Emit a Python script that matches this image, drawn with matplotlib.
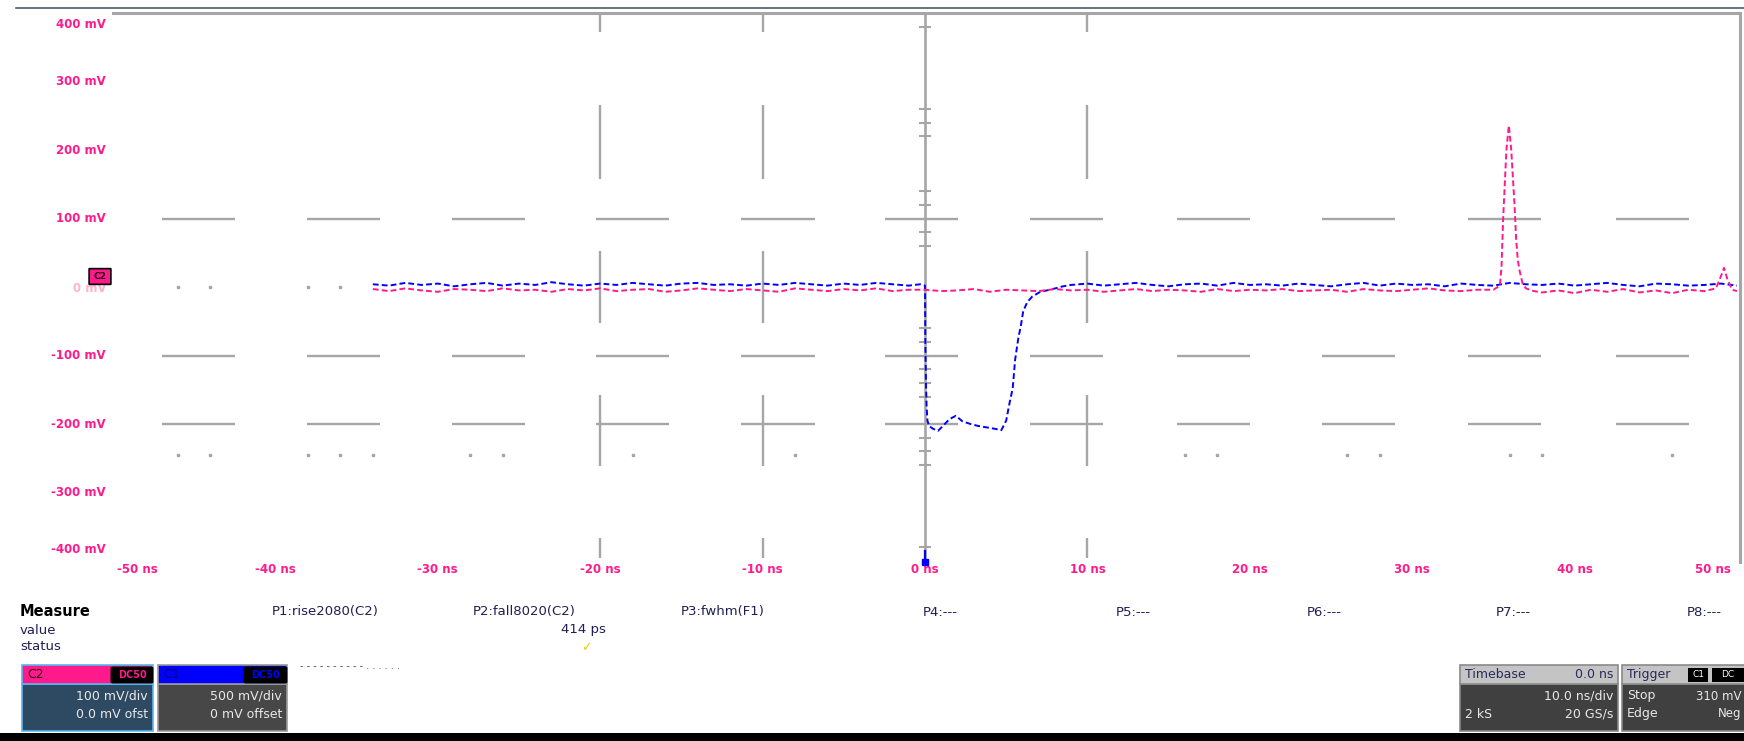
import matplotlib

matplotlib.use("Agg")
import matplotlib.pyplot as plt
import numpy as np
from matplotlib.patches import Rectangle, FancyBboxPatch

W, H = 1744, 741

# graticule labels
x_ticks_ns = [-50, -40, -30, -20, -10, 0, 10, 20, 30, 40, 50]
x_tick_labels = ["-50 ns", "-40 ns", "-30 ns", "-20 ns", "-10 ns", "0 ns",
                 "10 ns", "20 ns", "30 ns", "40 ns", "50 ns"]
y_ticks_mv = [400, 300, 200, 100, -100, -200, -300, -400]
y_tick_labels = ["400 mV", "300 mV", "200 mV", "100 mV",
                 "-100 mV", "-200 mV", "-300 mV", "-400 mV"]

# C2 (pink) trace, screen mV
c2_pre_mv = [-3, -6, -2, -5, -7, -3, -4, -6, -2, -5, -4, -7, -3, -5, -2, -6, -4,
             -3, -7, -5, -2, -4, -6, -3, -5, -7, -2, -4, -6, -3, -5, -2, -6, -4]
c2_post_mv = [-4, -6, -5, -3, -7, -4, -5, -6, -3, -5, -4, -7, -5, -3, -6, -4, -5, -7,
              -3, -6, -4, -5, -3, -6, -5, -4, -7, -3, -5, -6, -4, -2, -5, -6, -4]
c2_spike_ns = [35.0, 35.4, 35.5, 35.6, 35.7, 35.8, 35.95, 36.1, 36.2, 36.3, 36.4, 36.5,
               36.6, 36.8, 37.0, 37.5, 38, 39, 40, 41, 42, 43, 44, 45, 46, 47, 48,
               48.7, 49.0, 49.2, 49.4, 49.7, 50]
c2_spike_mv = [-4, 2, 30, 100, 150, 200, 236, 200, 160, 120, 70, 40, 25, 5, -2, -6,
               -8, -5, -9, -4, -7, -3, -8, -5, -9, -4, -6, -2, 15, 28, 12, -4, -6]

# C1 (blue) trace, screen mV
c1_pre_mv = [4, 2, 6, 3, 5, 1, 4, 6, 2, 5, 3, 7, 4, 2, 5, 3, 6, 4, 2, 5,
             6, 3, 4, 2, 5, 3, 6, 4, 2, 5, 3, 6, 4, 2]
c1_pulse_ns = [-0.3, 0.0, 0.02, 0.06, 0.1, 0.15, 0.25, 0.5, 0.8, 1.1, 1.5, 1.9, 2.3,
               2.8, 3.3, 3.8, 4.3, 4.7, 5.0, 5.2, 5.4, 5.55, 5.75, 5.9, 6.05, 6.3,
               6.6, 7.1, 7.7, 8.5]
c1_pulse_mv = [4, 2, -80, -140, -175, -195, -203, -207, -210, -203, -193, -188, -196,
               -200, -203, -205, -207, -209, -195, -170, -148, -106, -74, -57, -35,
               -22, -14, -7, -4, 1]
c1_post_mv = [3, 5, 2, 4, 6, 3, 1, 4, 5, 2, 6, 3, 4, 2, 5, 3, 1, 4, 6, 2, 5,
              3, 4, 1, 5, 3, 2, 6, 4, 3, 5, 2, 4, 6, 3, 1, 5, 4, 2, 3, 5, 2]

# graticule pieces
h_dash_centres_ns = [-44.75, -35.8, -26.9, -18.0, -9.05, -0.2, 8.7, 17.75, 26.7, 35.7, 44.8]
h_dash_levels_mv = [100, -100, -200]
v_dash_cols_ns = [-20, -10, 10]
v_dash_spans_mv = [(372, 400), (158, 266), (-52, 52), (-262, -157), (-395, -367)]
centre_ticks_mv = [380, 260, 240, 220, 140, 120, 80, 60, -60, -80, -120, -140,
                   -160, -220, -240, -260, -380]
dots_zero_ns = [-46, -44, -38, -36]
dots_low_ns = [-46, -44, -38, -36, -34, -28, -26, -18, -8, 16, 18, 26, 28, 36, 38, 46]

PINK = "#ff1a8c"
BLUE = "#0000ff"
GRID = "#a6a6a6"


def fx(px):
    return px / W


def fy(py):
    return 1 - py / H


fig = plt.figure(figsize=(W / 100, H / 100), dpi=100, facecolor="white")
ax = fig.add_axes([fx(113), fy(561), (1737 - 113) / W, (561 - 13) / H])
ax.set_xlim(-50, 50)
ax.set_ylim(-400, 400)
ax.axis("off")

# graticule
for lvl in h_dash_levels_mv:
    for c in h_dash_centres_ns:
        ax.plot([c - 2.25, c + 2.25], [lvl, lvl], color=GRID, lw=1.7, solid_capstyle="butt")
for col in v_dash_cols_ns:
    for lo, hi in v_dash_spans_mv:
        ax.plot([col, col], [lo, hi], color=GRID, lw=1.7, solid_capstyle="butt")
ax.plot([0, 0], [-400, 400], color=GRID, lw=1.9, solid_capstyle="butt")
for mv in centre_ticks_mv:
    ax.plot([-0.3, 0.3], [mv, mv], color=GRID, lw=1.5)
ax.plot(dots_zero_ns, [0] * len(dots_zero_ns), ls="none", marker="s", ms=1.8, color=GRID)
ax.plot(dots_low_ns, [-245] * len(dots_low_ns), ls="none", marker="s", ms=1.8, color=GRID)

# traces
c2_t = np.concatenate([np.arange(-34, 0), np.arange(0, 35), c2_spike_ns])
c2_v = np.concatenate([c2_pre_mv, c2_post_mv, c2_spike_mv])
c1_t = np.concatenate([np.arange(-34, 0), c1_pulse_ns, np.arange(9, 51)])
c1_v = np.concatenate([c1_pre_mv, c1_pulse_mv, c1_post_mv])
ax.plot(c1_t, c1_v, color=BLUE, lw=1.4, ls=(0, (3, 1.6)), zorder=4)
ax.plot(c2_t, c2_v, color=PINK, lw=1.4, ls=(0, (3, 1.6)), zorder=5)

# trigger position marker
ax.plot([0, 0], [-385, -400], color=BLUE, lw=1.6, clip_on=False, zorder=6)
ax.plot([0], [-402], marker="s", ms=4, color=BLUE, clip_on=False, zorder=6)

# frame lines
fig.add_artist(plt.Line2D([fx(16), 1], [fy(8), fy(8)], color="#4f5b63", lw=1.2))
fig.add_artist(plt.Line2D([fx(113), fx(1740)], [fy(13), fy(13)], color=GRID, lw=2.2))
fig.add_artist(plt.Line2D([fx(1740), fx(1740)], [fy(13), fy(562)], color=GRID, lw=2.2))

# axis labels
for mv, lab in zip(y_ticks_mv, y_tick_labels):
    ax.annotate(lab, (-50, np.clip(mv, -383, 383)), xytext=(-5, 0), textcoords="offset points",
                ha="right", va="center", color=PINK, fontsize=8.5, fontweight="bold")
ax.annotate("0 mV", (-50, -2), xytext=(-5, 0), textcoords="offset points",
            ha="right", va="center", color="#ffb3cf", fontsize=8.5, fontweight="bold")
for ns, lab in zip(x_ticks_ns, x_tick_labels):
    ax.annotate(lab, (np.clip(ns, -48.5, 48.5), -400), xytext=(0, -6), textcoords="offset points",
                ha="center", va="center", color=PINK, fontsize=8.5, fontweight="bold",
                annotation_clip=False)

# channel offset marker
fig.add_artist(FancyBboxPatch((fx(90), fy(284)), 20 / W, 15 / H, boxstyle="round,pad=0.0005",
                              facecolor=PINK, edgecolor="black", lw=1.2))
fig.text(fx(100), fy(276.5), "C2", ha="center", va="center", fontsize=6.5,
         fontweight="bold", color="#200010")

# measurement table
NAVY = "#1f1f55"
fig.text(fx(20), fy(612), "Measure", fontsize=10.5, fontweight="bold", color="black", va="center")
fig.text(fx(20), fy(630), "value", fontsize=9.5, color=NAVY, va="center")
fig.text(fx(20), fy(647), "status", fontsize=9.5, color=NAVY, va="center")
params = [("P1:rise2080(C2)", 272), ("P2:fall8020(C2)", 473), ("P3:fwhm(F1)", 681),
          ("P4:---", 923), ("P5:---", 1116), ("P6:---", 1307), ("P7:---", 1496), ("P8:---", 1687)]
for name, xp in params:
    fig.text(fx(xp), fy(612), name, fontsize=9.5, color=NAVY, va="center")
fig.text(fx(606), fy(630), "414 ps", fontsize=9.5, color=NAVY, va="center", ha="right")
fig.text(fx(586), fy(648), "\u2713", fontsize=9, color="#e6d000", va="center", ha="center",
         fontweight="bold")
fig.text(fx(300), fy(666), "- - - - - - - - - - . . . . . .", fontsize=7, color="#505050",
         va="center")


def box(x0, x1, header, body, border, head_txt, body_rows, head_dark):
    fig.add_artist(Rectangle((fx(x0), fy(731)), (x1 - x0) / W, (731 - 684) / H,
                             facecolor=body, edgecolor=border, lw=1.2))
    fig.add_artist(Rectangle((fx(x0), fy(684)), (x1 - x0) / W, (684 - 665) / H,
                             facecolor=header, edgecolor=border, lw=1.2))
    left, right = head_txt
    fig.text(fx(x0 + 5), fy(674.5), left, fontsize=9, color=head_dark, va="center")
    if right:
        fig.text(fx(x1 - 5), fy(674.5), right, fontsize=9, color=head_dark, va="center", ha="right")
    for i, (l, r) in enumerate(body_rows):
        yy = 696 + i * 18
        if l:
            fig.text(fx(x0 + 5), fy(yy), l, fontsize=9, color="#e8e8e8", va="center")
        if r:
            fig.text(fx(x1 - 5), fy(yy), r, fontsize=9, color="#e8e8e8", va="center", ha="right")


def badge(x0, x1, color):
    fig.add_artist(FancyBboxPatch((fx(x0), fy(682)), (x1 - x0) / W, 14 / H,
                                  boxstyle="round,pad=0.001", facecolor="black", edgecolor="black"))
    fig.text(fx((x0 + x1) / 2), fy(674.5), "DC50", fontsize=7, color=color, ha="center",
             va="center", fontweight="bold")


box(22, 153, PINK, "#2e4a62", "#59b6f0", ("C2", None),
    [(None, "100 mV/div"), (None, "0.0 mV ofst")], "#2a0a18")
badge(113, 151, PINK)
box(158, 287, BLUE, "#474747", "#9a9a9a", ("C1", None),
    [(None, "500 mV/div"), (None, "0 mV offset")], "#000060")
badge(246, 285, BLUE)
box(1460, 1618, "#c4c4c4", "#404040", "#8a8a8a", ("Timebase", "0.0 ns"),
    [(None, "10.0 ns/div"), ("2 kS", "20 GS/s")], "#2a2a5a")
box(1622, 1760, "#c4c4c4", "#404040", "#8a8a8a", ("Trigger", None),
    [("Stop", None), ("Edge", None)], "#2a2a5a")
fig.add_artist(Rectangle((fx(1688), fy(682)), 20 / W, 14 / H, facecolor="black"))
fig.add_artist(Rectangle((fx(1712), fy(682)), 32 / W, 14 / H, facecolor="black"))
fig.text(fx(1698), fy(674.5), "C1", fontsize=6.5, color="white", ha="center", va="center")
fig.text(fx(1728), fy(674.5), "DC", fontsize=6.5, color="white", ha="center", va="center")
fig.text(fx(1741), fy(696), "310 mV", fontsize=8.5, color="#e8e8e8", va="center", ha="right")
fig.text(fx(1741), fy(714), "Neg", fontsize=8.5, color="#e8e8e8", va="center", ha="right")

# bottom bar
fig.add_artist(Rectangle((0, 0), 1, 8 / H, facecolor="black", edgecolor="none"))

fig.savefig("out.png", dpi=100, facecolor="white")
plt.close(fig)
